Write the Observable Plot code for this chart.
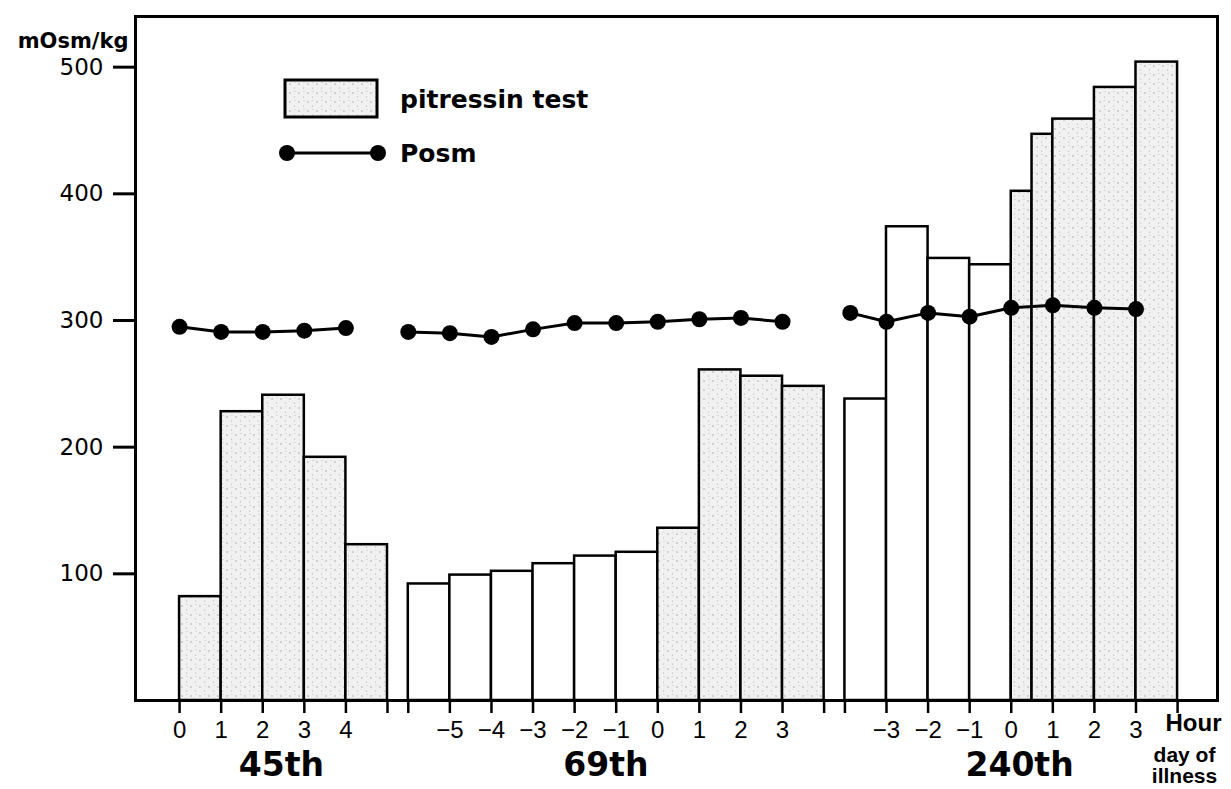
<!DOCTYPE html>
<html><head><meta charset="utf-8">
<script src="https://cdn.jsdelivr.net/npm/d3@7"></script>
<script src="https://cdn.jsdelivr.net/npm/@observablehq/plot@0.6"></script>
<style>
body{margin:0;background:white;}
#wrap{position:relative;width:1231px;height:789px;}
g[aria-label="note"] text{letter-spacing:1.5px}
g[aria-label="hour"] text{letter-spacing:1px}
g[aria-label="unit"] text{letter-spacing:0.5px}
</style></head><body>
<svg width="0" height="0" style="position:absolute">
<defs>
<pattern id="stipple" width="9" height="9" patternUnits="userSpaceOnUse">
 <rect width="9" height="9" fill="#f1f1f1"/>
 <circle cx="2" cy="3" r="0.7" fill="#999"/>
 <circle cx="6.5" cy="7" r="0.6" fill="#aaa"/>
 <circle cx="7" cy="1.5" r="0.5" fill="#b5b5b5"/>
</pattern>
</defs></svg>
<div id="wrap"></div>
<script>
// ---- data ----
const groupNames = ["45th", "69th", "240th"];
const groupLabelHour = [2.45, -1.25, 0.2];
const tickHours = [
  [0, 1, 2, 3, 4, 5],
  [-6, -5, -4, -3, -2, -1, 0, 1, 2, 3, 4],
  [-4, -3, -2, -1, 0, 1, 2, 3, 4]
];
const tickLabels = [
  ["0", "1", "2", "3", "4", ""],
  ["", "\u22125", "\u22124", "\u22123", "\u22122", "\u22121", "0", "1", "2", "3", ""],
  ["", "\u22123", "\u22122", "\u22121", "0", "1", "2", "3", ""]
];
const yTicks = [100, 200, 300, 400, 500];

const barGroup = [0,0,0,0,0, 1,1,1,1,1,1,1,1,1,1, 2,2,2,2,2,2,2,2,2];
const barStart = [0,1,2,3,4, -6,-5,-4,-3,-2,-1,0,1,2,3, -4,-3,-2,-1,0,0.5,1,2,3];
const barEnd   = [1,2,3,4,5, -5,-4,-3,-2,-1,0,1,2,3,4, -3,-2,-1,0,0.5,1,2,3,4];
const barValue = [82,228,241,192,123, 92,99,102,108,114,117,136,261,256,248, 238,374,349,344,402,447,459,484,504];
const barPitressin = [1,1,1,1,1, 0,0,0,0,0,0,1,1,1,1, 0,0,0,0,1,1,1,1,1];

const posmGroup = [0,0,0,0,0, 1,1,1,1,1,1,1,1,1,1, 2,2,2,2,2,2,2,2];
const posmHour  = [0,1,2,3,4, -6,-5,-4,-3,-2,-1,0,1,2,3, -3.87,-3,-2,-1,0,1,2,3];
const posmValue = [295,291,291,292,294, 291,290,287,293,298,298,299,301,302,299, 306,299,306,303,310,312,310,309];

// ---- layout ----
const groupOffset = [0, 11.5, 20];

const bars = barValue.map((v, i) => ({
  x1: barStart[i] + groupOffset[barGroup[i]],
  x2: barEnd[i] + groupOffset[barGroup[i]],
  v, pit: barPitressin[i] === 1
}));
const posm = posmValue.map((v, i) => ({
  u: posmHour[i] + groupOffset[posmGroup[i]], v, g: posmGroup[i]
}));
const tickMap = new Map();
tickHours.forEach((hs, g) => hs.forEach((h, j) => tickMap.set((h + groupOffset[g]).toFixed(3), tickLabels[g][j])));
const tickPos = [...tickMap.keys()].map(Number);

const chart = Plot.plot({
  width: 1231, height: 789,
  marginLeft: 135, marginRight: 14, marginTop: 16, marginBottom: 89,
  x: {domain: [-1.06, 24.96]},
  y: {domain: [0, 540]},
  style: {fontFamily: "'Liberation Sans', Arial, sans-serif", background: "white", color: "black"},
  marks: [
    Plot.rectY(bars, {filter: d => !d.pit, x1: "x1", x2: "x2", y: "v", fill: "white", stroke: "black", strokeWidth: 2.5}),
    Plot.rectY(bars, {filter: d => d.pit, x1: "x1", x2: "x2", y: "v", fill: "url(#stipple)", stroke: "black", strokeWidth: 2.5}),
    Plot.frame({stroke: "black", strokeWidth: 3}),
    Plot.axisY(yTicks, {tickSize: 22, tickPadding: 10, strokeWidth: 3, fontSize: 23, fontFamily: "DejaVu Sans", label: null}),
    Plot.axisX(tickPos, {tickSize: 13, tickPadding: 7, strokeWidth: 2.5, fontSize: 24, label: null,
      tickFormat: d => tickMap.get(d.toFixed(3))}),
    Plot.line(posm, {x: "u", y: "v", z: "g", stroke: "black", strokeWidth: 3}),
    Plot.dot(posm, {x: "u", y: "v", r: 8, fill: "black", stroke: "none"}),
    Plot.text(groupNames, {x: (d, i) => groupLabelHour[i] + groupOffset[i], frameAnchor: "bottom", dy: 75,
      fontSize: 33, fontWeight: "bold", fontFamily: "DejaVu Sans"}),
    Plot.text(["mOsm/kg"], {frameAnchor: "top-left", dx: -7, dy: 17, textAnchor: "end",
      fontSize: 21, fontWeight: "bold", fontFamily: "DejaVu Sans", ariaLabel: "unit"}),
    Plot.text(["Hour"], {frameAnchor: "bottom-right", dx: 4, dy: 30, textAnchor: "end", fontSize: 24,
      fontWeight: "bold", ariaLabel: "hour"}),
    Plot.text(["day of\nillness"], {frameAnchor: "bottom-right", dx: -33, dy: 82, textAnchor: "middle",
      fontSize: 21, fontWeight: "bold", lineHeight: 0.98, ariaLabel: "note"})
  ]
});
const wrap = document.getElementById("wrap");
wrap.appendChild(chart);

// legend overlay
const leg = d3.select(wrap).append("svg")
  .attr("width", 1231).attr("height", 789)
  .style("position", "absolute").style("left", "0px").style("top", "0px").style("pointer-events", "none");
leg.append("rect").attr("x", 285).attr("y", 80).attr("width", 92).attr("height", 37)
  .attr("fill", "url(#stipple)").attr("stroke", "black").attr("stroke-width", 3);
leg.append("text").attr("x", 400).attr("y", 99).attr("dominant-baseline", "central")
  .attr("font-family", "DejaVu Sans").attr("font-weight", "bold").attr("font-size", 25).text("pitressin test");
leg.append("line").attr("x1", 287).attr("x2", 378).attr("y1", 153).attr("y2", 153)
  .attr("stroke", "black").attr("stroke-width", 3);
leg.append("circle").attr("cx", 287).attr("cy", 153).attr("r", 8);
leg.append("circle").attr("cx", 378).attr("cy", 153).attr("r", 8);
leg.append("text").attr("x", 400).attr("y", 153).attr("dominant-baseline", "central")
  .attr("font-family", "DejaVu Sans").attr("font-weight", "bold").attr("font-size", 25).text("Posm");
</script>
</body></html>
